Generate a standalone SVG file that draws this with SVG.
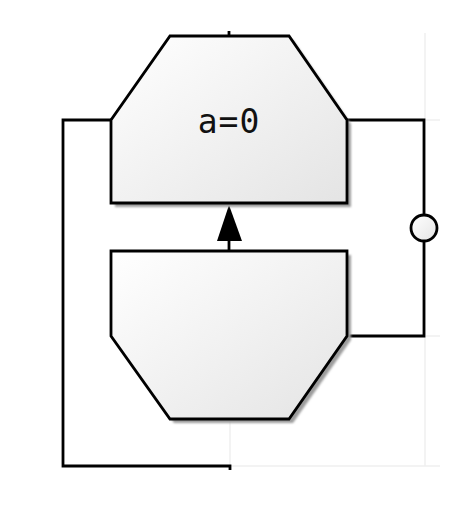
<svg xmlns="http://www.w3.org/2000/svg" width="472" height="532" viewBox="0 0 472 532">
  <defs>
    <linearGradient id="g" x1="0" y1="0" x2="1" y2="1">
      <stop offset="0" stop-color="#ffffff"/>
      <stop offset="1" stop-color="#e4e4e4"/>
    </linearGradient>
    <filter id="blur" x="-10%" y="-10%" width="120%" height="120%">
      <feGaussianBlur stdDeviation="1"/>
    </filter>
    <style>
      .node { fill: url(#g); stroke: #000; stroke-width: 2.8; stroke-linejoin: miter; }
      .shadow { fill: #9c9c9c; filter: url(#blur); }
      .conn { fill: none; stroke: #000; stroke-width: 2.8; }
      .grid { fill: none; stroke: #f0f0f0; stroke-width: 1.5; }
      .label { font-family: "DejaVu Sans Mono", "Liberation Mono", monospace; font-size: 33px; letter-spacing: 1px; fill: #111; }
    </style>
  </defs>
  <rect width="472" height="532" fill="#ffffff"/>
  <g id="background">
    <path class="grid" d="M425,33 V466 M347,120 H440 M347,336 H440 M230,419 V466 H440"/>
  </g>
  <g id="connectors">
    <path class="conn" d="M229,31 V36"/>
    <path class="conn" d="M111,120 H63 V466 H230 V470"/>
    <path class="conn" d="M347,336 H424 V120 H347"/>
    <path class="conn" d="M229,251 V238"/>
    <polygon points="229,205 217,241 242,241" fill="#000"/>
    <circle cx="424" cy="228" r="13" fill="url(#g)" stroke="#000" stroke-width="2.8"/>
  </g>
  <g id="node-top">
    <polygon class="shadow" points="174,40 293,40 351,124 351,207 115,207 115,124"/>
    <polygon class="node" points="170,36 289,36 347,120 347,203 111,203 111,120"/>
    <text class="label" x="229" y="133" text-anchor="middle">a=0</text>
  </g>
  <g id="node-bottom">
    <polygon class="shadow" points="115,255 351,255 351,340 293,423 174,423 115,340"/>
    <polygon class="node" points="111,251 347,251 347,336 289,419 170,419 111,336"/>
  </g>
</svg>
